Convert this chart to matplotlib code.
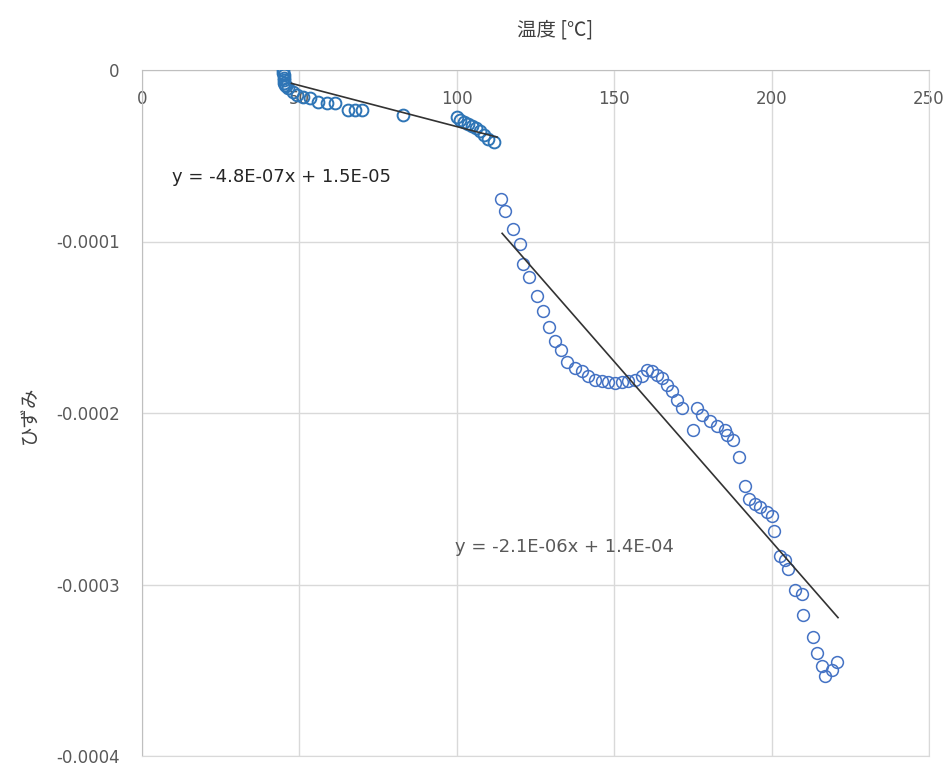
import matplotlib
matplotlib.use('Agg')
import matplotlib.pyplot as plt
import numpy as np

plt.rcParams['font.family'] = ['Noto Sans CJK JP', 'DejaVu Sans']

# segment 1 (below ~112 C), strain in units of 1e-5
temp1 = [44.8, 44.9, 45.0, 45.0, 45.1, 45.2, 45.4, 45.7, 46.4, 48.0, 49.2, 51.1,
         53.4, 56.0, 58.8, 61.3, 65.4, 67.7, 69.9, 82.9,
         100.1, 101.0, 102.3, 103.6, 104.8, 106.1, 107.4, 108.6, 109.9, 111.8]
strain1 = [0.0, -0.15, -0.3, -0.45, -0.6, -0.75, -0.9, -0.95, -1.04, -1.28, -1.45, -1.57,
           -1.62, -1.86, -1.91, -1.91, -2.32, -2.32, -2.32, -2.61,
           -2.72, -2.90, -3.01, -3.13, -3.25, -3.36, -3.54, -3.77, -4.00, -4.17]

# segment 2 (above ~112 C)
temp2 = [113.9, 115.3, 117.9, 120.1, 120.9, 123.0, 125.6, 127.5, 129.4, 131.2,
         133.0, 135.1, 137.6, 139.7, 141.8, 143.9, 146.0, 148.1, 150.3, 152.4,
         154.5, 156.6, 158.7, 160.3, 161.9, 163.5, 165.1, 166.7, 168.3, 169.9,
         171.4, 175.1, 176.2, 177.8, 180.4, 182.6, 185.2, 185.7, 187.8, 189.7,
         191.6, 192.9, 194.7, 196.3, 198.4, 200.0, 200.8, 202.7, 204.3, 205.3,
         207.4, 209.6, 210.1, 213.2, 214.3, 215.9, 217.0, 219.1, 220.7]
strain2 = [-7.54, -8.25, -9.28, -10.14, -11.30, -12.08, -13.19, -14.07, -14.97, -15.79,
           -16.33, -17.04, -17.35, -17.58, -17.87, -18.07, -18.13, -18.20, -18.26, -18.20,
           -18.13, -18.07, -17.87, -17.49, -17.58, -17.78, -17.97, -18.36, -18.74, -19.23,
           -19.71, -20.97, -19.71, -20.10, -20.48, -20.77, -20.97, -21.26, -21.55, -22.57,
           -24.25, -25.03, -25.32, -25.51, -25.80, -25.99, -26.86, -28.31, -28.60, -29.08,
           -30.34, -30.53, -31.79, -33.04, -34.01, -34.78, -35.36, -34.97, -34.49]

# trend lines (slope, intercept, x range)
fit1 = (-4.8e-7, 1.5e-5)
fit1_range = (47.5, 112.8)
fit2 = (-2.1e-6, 1.45e-4)
fit2_range = (114.4, 221.1)
label1 = 'y = -4.8E-07x + 1.5E-05'
label2 = 'y = -2.1E-06x + 1.4E-04'

x_ticks = [0, 50, 100, 150, 200, 250]
y_ticks = [-0.0004, -0.0003, -0.0002, -0.0001, 0]
y_ticklabels = ['-0.0004', '-0.0003', '-0.0002', '-0.0001', '0']

fig = plt.figure(figsize=(9.5, 7.68), dpi=100)
ax = fig.add_axes([142/950, 12/768, (929-142)/950, (756-70)/768])

ax.plot(temp1, np.array(strain1)*1e-5, 'o', mfc='none', mec='#2E75B6', ms=8.5, mew=1.4, zorder=3)
ax.plot(temp2, np.array(strain2)*1e-5, 'o', mfc='none', mec='#4472C4', ms=8.5, mew=1.1, zorder=3)

for (m, b), (x0, x1) in [(fit1, fit1_range), (fit2, fit2_range)]:
    xs = np.array([x0, x1])
    ax.plot(xs, m*xs + b, color='#333333', lw=1.2, zorder=4)

ax.text(9.5, -6.26e-5, label1, fontsize=13, color='#262626', va='center', family=['DejaVu Sans'])
ax.text(99.4, -27.8e-5, label2, fontsize=13, color='#595959', va='center', family=['DejaVu Sans'])

ax.set_xlim(0, 250)
ax.set_ylim(-0.0004, 0)
ax.set_xticks(x_ticks)
ax.set_yticks(y_ticks)
ax.set_yticklabels(y_ticklabels)
ax.grid(True, color='#d9d9d9', lw=1)
ax.set_axisbelow(True)
for s in ['right', 'bottom']:
    ax.spines[s].set_color('#d9d9d9')
for s in ['left', 'top']:
    ax.spines[s].set_color('#bfbfbf')
ax.xaxis.tick_top()
ax.tick_params(axis='x', length=0, pad=-27, labelsize=12, labelcolor='#595959')
ax.tick_params(axis='y', length=0, pad=16, labelsize=12, labelcolor='#595959')
for lab in ax.get_xticklabels():
    lab.set_family(['DejaVu Sans'])
for lab in ax.get_yticklabels():
    lab.set_family(['DejaVu Sans'])

fig.text(555/950, 1 - 30/768, '温度 [℃]', fontsize=14, color='#404040', ha='center', va='center')
fig.text(30/950, 1 - 415/768, 'ひずみ', fontsize=14, color='#404040', ha='center', va='center', rotation=90)

fig.savefig('out.png')
